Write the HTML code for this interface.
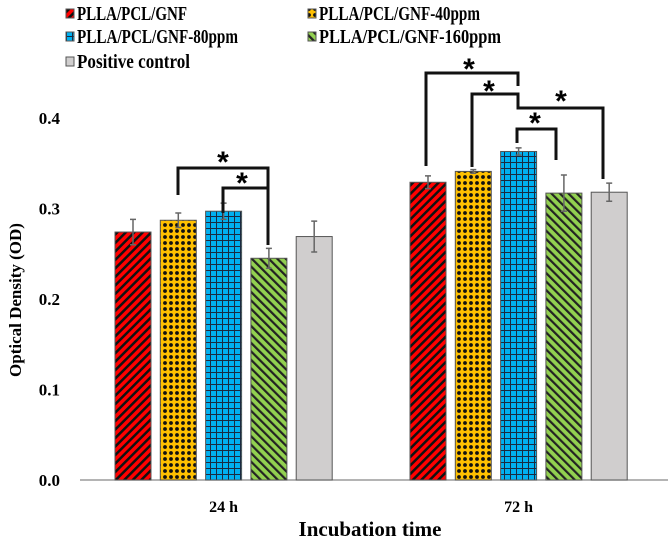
<!DOCTYPE html>
<html><head><meta charset="utf-8"><style>
body{margin:0;background:#fff;}
svg{display:block;font-family:"Liberation Serif",serif;font-weight:bold;}
</style></head><body>
<svg id="chart" width="668" height="540">
<defs>
<pattern id="p0" width="6" height="6" patternUnits="userSpaceOnUse" patternTransform="rotate(45)"><rect width="6" height="6" fill="#ff0000"/><rect width="2.5" height="6" fill="#111"/></pattern>
<pattern id="p1" width="6" height="6" patternUnits="userSpaceOnUse"><rect width="6" height="6" fill="#ffc000"/><circle cx="3" cy="3" r="1.9" fill="#111"/></pattern>
<pattern id="p2" width="6" height="6" patternUnits="userSpaceOnUse"><rect width="6" height="6" fill="#00b0f0"/><rect width="6" height="1" fill="#1a2a40"/><rect width="1" height="6" fill="#1a2a40"/></pattern>
<pattern id="p3" width="6" height="6" patternUnits="userSpaceOnUse" patternTransform="rotate(-45)"><rect width="6" height="6" fill="#92d050"/><rect width="2.2" height="6" fill="#222"/></pattern>
<pattern id="p4" width="6" height="6" patternUnits="userSpaceOnUse"><rect width="6" height="6" fill="#d0cece"/></pattern>
</defs>
<g id="legend"></g>
<g id="axes"></g>
<g id="bars"></g>
<g id="sig"></g>
</svg>
<script>
const categories = ["24 h", "72 h"];
const seriesNames = ["PLLA/PCL/GNF","PLLA/PCL/GNF-40ppm","PLLA/PCL/GNF-80ppm","PLLA/PCL/GNF-160ppm","Positive control"];
const values24 = [0.274, 0.287, 0.297, 0.245, 0.269];
const values72 = [0.329, 0.341, 0.363, 0.317, 0.318];
const errors24 = [0.014, 0.008, 0.009, 0.011, 0.017];
const errors72 = [0.007, 0.002, 0.004, 0.020, 0.010];
const yTicks = [0.0, 0.1, 0.2, 0.3, 0.4];
const yTickLabels = ["0.0","0.1","0.2","0.3","0.4"];

const NS = "http://www.w3.org/2000/svg";
function mk(tag, attrs, parent, text){
  const e = document.createElementNS(NS, tag);
  for (const k in attrs) e.setAttribute(k, attrs[k]);
  if (text !== undefined) e.textContent = text;
  parent.appendChild(e); return e;
}
const y0 = 480, pxPer = 905;
function yScale(v){ return y0 - v * pxPer; }
const groupStart = [115, 410], step = 45.3, bw = 36;
function xBar(g, s){ return groupStart[g] + s * step; }

const axes = document.getElementById('axes');
const baseline = mk('line',{x1:80,x2:668,y1:y0,y2:y0,stroke:'#888','stroke-width':1.2},axes);


yTicks.forEach((t,i)=>{
  const tx = mk('text',{x:60,y:yScale(t)+6,'text-anchor':'end','font-size':17},axes,yTickLabels[i]);
  
  
});
categories.forEach((c,g)=>{
  const cx = xBar(g,2)+bw/2;
  const tx = mk('text',{x:cx,y:512,'text-anchor':'middle','font-size':16},axes,c);
  
  
});
const xt = mk('text',{x:370,y:536,'text-anchor':'middle','font-size':21},axes,'Incubation time');


const yt = mk('text',{x:0,y:0,'text-anchor':'middle','font-size':17,transform:'translate(21,300) rotate(-90)'},axes,'Optical Density (OD)');



const bars = document.getElementById('bars');
[values24, values72].forEach((vals,g)=>{
  const errs = g===0 ? errors24 : errors72;
  vals.forEach((v,s)=>{
    const x = xBar(g,s), top = yScale(v);
    const r = mk('rect',{x:x,y:top,width:bw,height:y0-top,fill:'url(#p'+s+')',stroke:'#555','stroke-width':1},bars);
    
    
    const cx = x+bw/2, e1 = yScale(v+errs[s]), e2 = yScale(v-errs[s]);
    const eb = mk('path',{d:`M${cx},${e1}V${e2}M${cx-3},${e1}H${cx+3}M${cx-3},${e2}H${cx+3}`,stroke:'#666','stroke-width':1.5,fill:'none'},bars);
    
    
  });
});

const sig = document.getElementById('sig');
const brackets = [
  {d:'M178,195V168H268V187', star:[223,157]},
  {d:'M223,213V188H268V245', star:[242,178]},
  {d:'M426,166V73H518V86', star:[469,64]},
  {d:'M472,167V94H518V104', star:[489,86]},
  {d:'M518,95V108H603V179', star:[561,96]},
  {d:'M517,143V129H556V160', star:[535,118]}
];
brackets.forEach(b=>{
  const p = mk('path',{d:b.d,stroke:'#111','stroke-width':3,fill:'none'},sig);
  
  
  const s = mk('text',{x:b.star[0],y:b.star[1]+15,'text-anchor':'middle','font-size':30,'font-family':'Liberation Sans, sans-serif'},sig,'*');
  
  
});

const legend = document.getElementById('legend');
const legPos = [[66,13],[308,13],[66,36],[308,36],[66,61]];
const legW = [110, 161, 161, 182, 113];
seriesNames.forEach((n,i)=>{
  const [x,y] = legPos[i];
  const sw = mk('rect',{x:x,y:y-4,width:8,height:9,fill:'url(#p'+i+')',stroke:'#555','stroke-width':1},legend);
  
  
  const t = mk('text',{x:x+11,y:y+7,'font-size':20,textLength:legW[i],lengthAdjust:'spacingAndGlyphs'},legend,n);
  
  
});
</script>
</body></html>
